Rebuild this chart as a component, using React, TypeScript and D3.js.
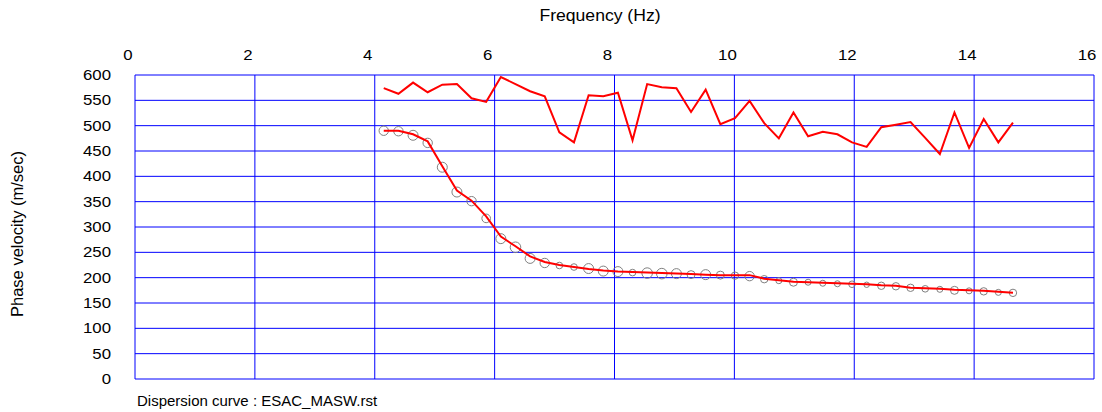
import * as React from 'react';
import * as d3 from 'd3';

// frequency bins (Hz)
const freqs = [
  4.150, 4.395, 4.639, 4.883, 5.127, 5.371, 5.615, 5.859, 6.104, 6.348, 6.592,
  6.836, 7.080, 7.324, 7.568, 7.813, 8.057, 8.301, 8.545, 8.789, 9.033, 9.277,
  9.521, 9.766, 10.010, 10.254, 10.498, 10.742, 10.986, 11.230, 11.475, 11.719,
  11.963, 12.207, 12.451, 12.695, 12.939, 13.184, 13.428, 13.672, 13.916, 14.160,
  14.404, 14.648
];

// upper curve (m/sec)
const upperVel = [
  574, 563, 585, 566, 581, 582, 554, 547, 596, 582, 568, 558, 487, 467, 560, 558,
  565, 471, 582, 576, 574, 527, 571, 503, 515, 549, 505, 475, 526, 479, 488, 483,
  467, 458, 497, 502, 507, 476, 444, 526, 456, 513, 467, 506
];

// picked dispersion points (m/sec)
const pickedVel = [
  490, 489, 481, 466, 418, 369, 351, 317, 277, 260, 238, 229, 224, 221, 218, 213,
  212, 210, 209, 208, 208, 206, 206, 205, 204, 203, 197, 194, 191, 191, 189, 188,
  187, 186, 184, 183, 180, 178, 177, 175, 174, 173, 171, 170
];

// point weight (0-100), shown as circle size
const pickedWeight = [
  73, 73, 83, 73, 83, 83, 73, 60, 83, 93, 83, 73, 27, 27, 83, 83, 83, 27, 93, 93,
  83, 50, 83, 50, 40, 73, 40, 17, 50, 17, 17, 17, 27, 7, 40, 40, 40, 27, 17, 50,
  17, 40, 17, 40
];

// fitted dispersion curve (m/sec)
const fitVel = [
  490, 490, 483, 469, 420, 372, 352, 321, 281, 262, 242, 231, 225, 221, 217, 214,
  212, 211, 210, 209, 208, 207, 206, 205, 205, 205, 198, 195, 192, 191, 190, 189,
  188, 187, 185, 184, 180, 179, 178, 176, 175, 174, 172, 170
];

const xTicks = [0, 2, 4, 6, 8, 10, 12, 14, 16];
const yTicks = [0, 50, 100, 150, 200, 250, 300, 350, 400, 450, 500, 550, 600];

const W = 1102;
const H = 412;
const margin = { top: 75, right: 8, bottom: 33, left: 135 };

export default function App() {
  const ref = React.useRef<SVGSVGElement>(null);

  React.useEffect(() => {
    const svg = d3.select(ref.current);
    svg.selectAll('*').remove();

    const x = d3.scaleLinear().domain([0, 16]).range([margin.left, W - margin.right]);
    const y = d3.scaleLinear().domain([0, 600]).range([H - margin.bottom, margin.top]);
    const r = d3.scaleLinear().domain([0, 100]).range([2.5, 5.5]);
    const font = 'Liberation Sans, Arial, sans-serif';

    // grid
    const grid = svg.append('g').attr('stroke', '#0000ff').attr('stroke-width', 1);
    grid.selectAll('.vg')
      .data(xTicks)
      .enter()
      .append('line')
      .attr('x1', d => x(d)).attr('x2', d => x(d))
      .attr('y1', y(0)).attr('y2', y(600));
    grid.selectAll('.hg')
      .data(yTicks)
      .enter()
      .append('line')
      .attr('x1', x(0)).attr('x2', x(16))
      .attr('y1', d => y(d)).attr('y2', d => y(d));

    // tick labels (the original text is drawn a bit wide)
    svg.append('g')
      .selectAll('text')
      .data(xTicks)
      .enter()
      .append('text')
      .attr('transform', d => 'translate(' + (x(d) - 7) + ',60) scale(1.2,1)')
      .attr('text-anchor', 'middle')
      .style('font-family', font)
      .style('font-size', '14px')
      .text(d => d);
    svg.append('g')
      .selectAll('text')
      .data(yTicks)
      .enter()
      .append('text')
      .attr('transform', d => 'translate(111,' + (y(d) + 5) + ') scale(1.2,1)')
      .attr('text-anchor', 'end')
      .style('font-family', font)
      .style('font-size', '14px')
      .text(d => d);

    // titles
    svg.append('text')
      .attr('transform', 'translate(600,21) scale(1.1,1)')
      .attr('text-anchor', 'middle')
      .style('font-family', font).style('font-size', '16px')
      .text('Frequency (Hz)');
    svg.append('text')
      .attr('transform', 'translate(23,' + 234 + ') rotate(-90)')
      .attr('text-anchor', 'middle')
      .style('font-family', font).style('font-size', '16.5px')
      .text('Phase velocity (m/sec)');
    svg.append('text')
      .attr('x', 137).attr('y', 406)
      .style('font-family', font).style('font-size', '15px')
      .text('Dispersion curve : ESAC_MASW.rst');

    const line = d3.line<number>()
      .x((d, i) => x(freqs[i]))
      .y(d => y(d));

    svg.append('path')
      .datum(upperVel)
      .attr('d', line)
      .attr('fill', 'none')
      .attr('stroke', '#ff0000')
      .attr('stroke-width', 2);

    svg.append('g')
      .selectAll('circle')
      .data(pickedVel)
      .enter()
      .append('circle')
      .attr('cx', (d, i) => x(freqs[i]))
      .attr('cy', d => y(d))
      .attr('r', (d, i) => r(pickedWeight[i]))
      .attr('fill', 'none')
      .attr('stroke', '#808080')
      .attr('stroke-width', 1);

    svg.append('path')
      .datum(fitVel)
      .attr('d', line)
      .attr('fill', 'none')
      .attr('stroke', '#ff0000')
      .attr('stroke-width', 2);
  }, []);

  return (
    <svg ref={ref} width={W} height={H}
      style={{ position: 'absolute', left: 0, top: 0, background: '#fff' }} />
  );
}
